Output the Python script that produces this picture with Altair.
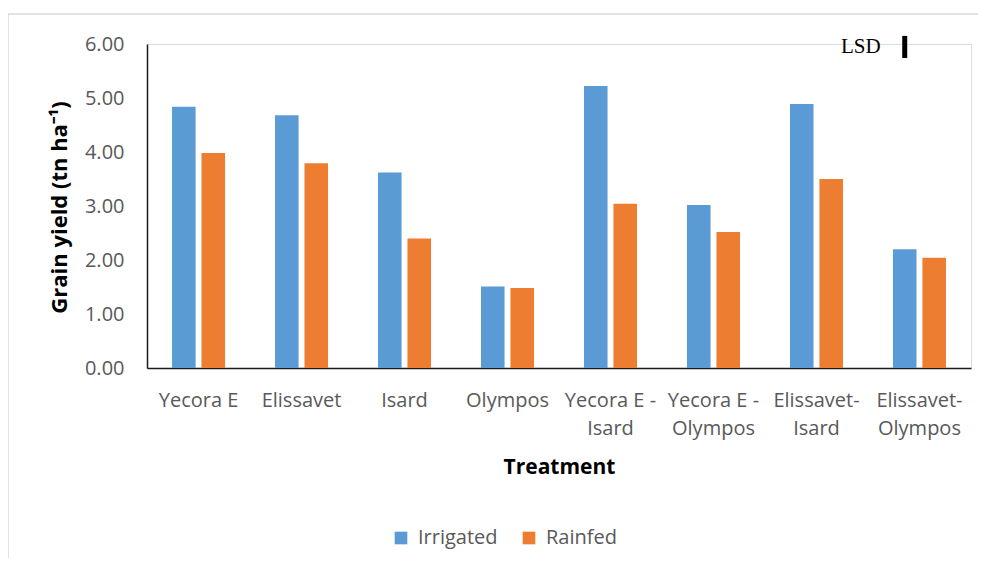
import altair as alt
import pandas as pd

categories = ["Yecora E", "Elissavet", "Isard", "Olympos",
              "Yecora E -\nIsard", "Yecora E -\nOlympos",
              "Elissavet-\nIsard", "Elissavet-\nOlympos"]
series = ["Irrigated", "Rainfed"]
irrigated = [4.84, 4.68, 3.62, 1.51, 5.22, 3.02, 4.89, 2.20]
rainfed = [3.98, 3.79, 2.40, 1.48, 3.04, 2.52, 3.50, 2.04]
colors = ["#5B9BD5", "#ED7D31"]
y_ticks = [0, 1, 2, 3, 4, 5, 6]

# LSD marker (drawn near the last category, top of chart)
lsd_label = "LSD"
lsd_low = 5.74
lsd_high = 6.15

rows = []
for c, a, b in zip(categories, irrigated, rainfed):
    rows.append({"category": c, "series": "Irrigated", "value": a})
    rows.append({"category": c, "series": "Rainfed", "value": b})
df = pd.DataFrame(rows)

lsd_df = pd.DataFrame([{"category": categories[-1], "series": series[0],
                        "low": lsd_low, "high": lsd_high,
                        "mid": (lsd_low + lsd_high) / 2, "label": lsd_label}])

FONT = "Open Sans"
GRAY = "#595959"

x_enc = alt.X("category:N", sort=categories,
              scale=alt.Scale(paddingInner=0.485, paddingOuter=0.243),
              axis=alt.Axis(title="Treatment", labelAngle=0, ticks=False,
                            labelExpr="split(datum.value, '\\n')",
                            labelLineHeight=28, labelPadding=22,
                            labelFont=FONT, labelFontSize=20, labelColor=GRAY,
                            domainColor="#1a1a1a", domainWidth=1.5,
                            titleFont=FONT, titleFontSize=21, titleFontWeight="bold",
                            titleColor="#000000", titleY=99, titleBaseline="middle"))
xoff_enc = alt.XOffset("series:N", sort=series,
                       scale=alt.Scale(paddingInner=0.2, paddingOuter=0))

bars = alt.Chart(df).mark_bar().encode(
    x=x_enc,
    xOffset=xoff_enc,
    y=alt.Y("value:Q",
            scale=alt.Scale(domain=[0, 6], nice=False, zero=True),
            axis=alt.Axis(title="Grain yield (tn ha⁻¹)", values=y_ticks, format=".2f",
                          ticks=False, grid=False, labelPadding=23,
                          labelFont=FONT, labelFontSize=20, labelColor=GRAY,
                          domainColor="#1a1a1a", domainWidth=1.5,
                          titleFont=FONT, titleFontSize=22, titleFontWeight="bold",
                          titleColor="#000000", titleAngle=-90, titleX=-88, titleY=163,
                          titleBaseline="middle", titleAlign="center")),
    color=alt.Color("series:N", sort=series,
                    scale=alt.Scale(domain=series, range=colors),
                    legend=alt.Legend(title=None, orient="none", direction="horizontal",
                                      legendX=244, legendY=484, symbolType="square",
                                      symbolSize=160, symbolStrokeWidth=0,
                                      labelFont=FONT, labelFontSize=20, labelColor=GRAY,
                                      labelOffset=7, columnPadding=21, padding=0)),
)

lsd_rule = alt.Chart(lsd_df).mark_rule(color="#000000", strokeWidth=5, clip=False).encode(
    x=alt.X("category:N", sort=categories),
    xOffset=alt.XOffset("series:N", sort=series),
    y=alt.Y("low:Q"),
    y2="high:Q",
)
lsd_text = alt.Chart(lsd_df).mark_text(align="right", baseline="middle", dx=-24,
                                       font="Liberation Serif", fontSize=21,
                                       color="#000000", clip=False).encode(
    x=alt.X("category:N", sort=categories),
    xOffset=alt.XOffset("series:N", sort=series),
    y=alt.Y("mid:Q"),
    text="label:N",
)

one = pd.DataFrame({"k": [0]})
border_left = alt.Chart(one).mark_rule(color="#d9d9d9", strokeWidth=1.5).encode(
    x=alt.value(-139), y=alt.value(-30), y2=alt.value(520))
border_top = alt.Chart(one).mark_rule(color="#d9d9d9", strokeWidth=1.5).encode(
    x=alt.value(-139), x2=alt.value(831), y=alt.value(-30))

chart = alt.layer(border_left, border_top, bars, lsd_rule, lsd_text).properties(
    width=824, height=324,
    autosize=alt.AutoSizeParams(type="none"),
    padding={"left": 139, "top": 36, "right": 7, "bottom": 190},
).configure_view(stroke=None).configure(background="white")

chart.save("out.html", embed_options={"renderer": "svg", "actions": False})
